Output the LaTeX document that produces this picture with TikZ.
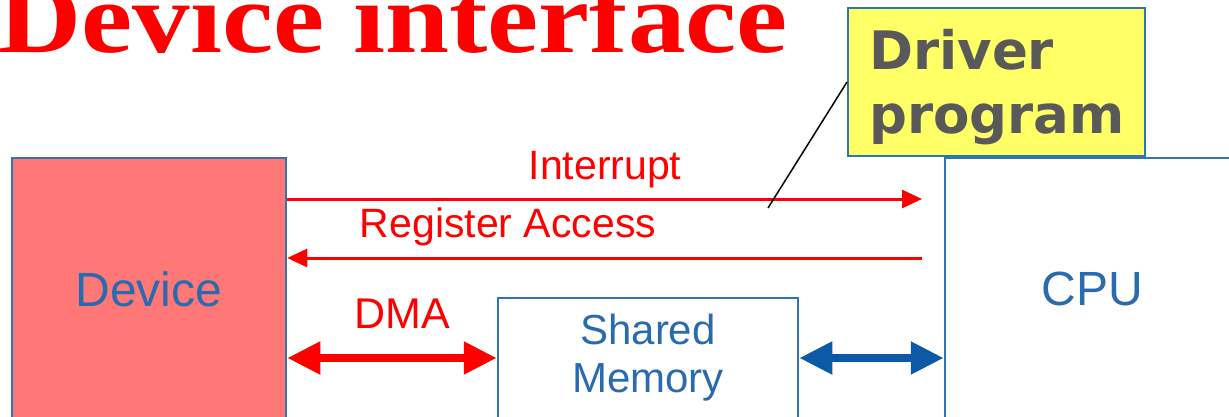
\documentclass[tikz,border=0pt]{standalone}
\usepackage{fontspec}
\usetikzlibrary{arrows.meta,calc}
\newfontfamily\labelfont{Liberation Sans}
\newfontfamily\notefont{DejaVu Sans}
\newfontfamily\titlefont{Liberation Serif}
\definecolor{sigred}{RGB}{255,0,0}
\definecolor{devfill}{RGB}{255,119,119}
\definecolor{boxblue}{RGB}{46,117,182}
\definecolor{txtblue}{RGB}{42,107,176}
\definecolor{busblue}{RGB}{12,90,166}
\definecolor{notegray}{RGB}{89,89,89}
\definecolor{noteyellow}{RGB}{255,255,102}
\begin{document}
\begin{tikzpicture}[x=1pt,y=1pt,
  unit/.style={draw=boxblue,line width=2.5pt,inner sep=0pt,text=txtblue,
    font=\labelfont\fontsize{48}{54}\selectfont},
  sig/.style={draw=sigred,line width=3pt,-{Triangle[length=20pt,width=18pt]}},
  siglabel/.style={text=sigred,anchor=base,inner sep=0pt,
    font=\labelfont\fontsize{41}{46}\selectfont},
  bus/.style={line width=8pt,{Triangle[length=33pt,width=31pt]}-{Triangle[length=33pt,width=31pt]}}
]
\useasboundingbox (0,0) rectangle (1229,416);
\clip (0,0) rectangle (1229,416);

% title
\node[anchor=base west,inner sep=0pt,text=sigred,xscale=1.14,
  font=\titlefont\bfseries\fontsize{101}{110}\selectfont] (title) at (-2,363) {Device interface};

% main blocks
\node[unit,fill=devfill,minimum width=274pt,minimum height=262pt] (dev) at (149,127) {Device};
\node[unit,fill=white,minimum width=295pt,minimum height=262pt] (cpu) at (1092.5,127) {CPU};
\node[unit,fill=white,minimum width=300pt,minimum height=120pt,align=center,
  font=\labelfont\fontsize{42}{48}\selectfont] (mem) at (648,58) {Shared\\Memory};

% register-level signals
\coordinate (intEnd) at (922,217);
\coordinate (regStart) at (922,158);
\draw[sig] (dev.east |- intEnd) -- (intEnd);
\draw[sig] (regStart) -- (dev.east |- regStart);
\node[siglabel] (intLbl) at (605,237) {Interrupt};
\node[siglabel] (regLbl) at (508,179) {Register Access};

% memory paths
\draw[bus,draw=sigred,fill=sigred] (dev.east |- mem.west) -- (mem.west);
\node[siglabel,font=\labelfont\fontsize{43}{48}\selectfont] (dmaLbl) at (402,88) {DMA};
\draw[bus,draw=busblue,fill=busblue] (mem.east) -- (cpu.west |- mem.east);

% callout
\node[draw=boxblue,line width=2pt,fill=noteyellow,minimum width=297pt,minimum height=148pt,
  inner sep=0pt] (drv) at (996.5,334) {};
\node[anchor=north west,align=left,inner sep=0pt,text=notegray,
  font=\notefont\bfseries\fontsize{53}{64}\selectfont] (drvText) at (869,387) {Driver\\program};
\coordinate (drvTip) at (768,208);
\draw[line width=1.5pt] (drvTip) -- (drv.west);
\end{tikzpicture}
\end{document}
